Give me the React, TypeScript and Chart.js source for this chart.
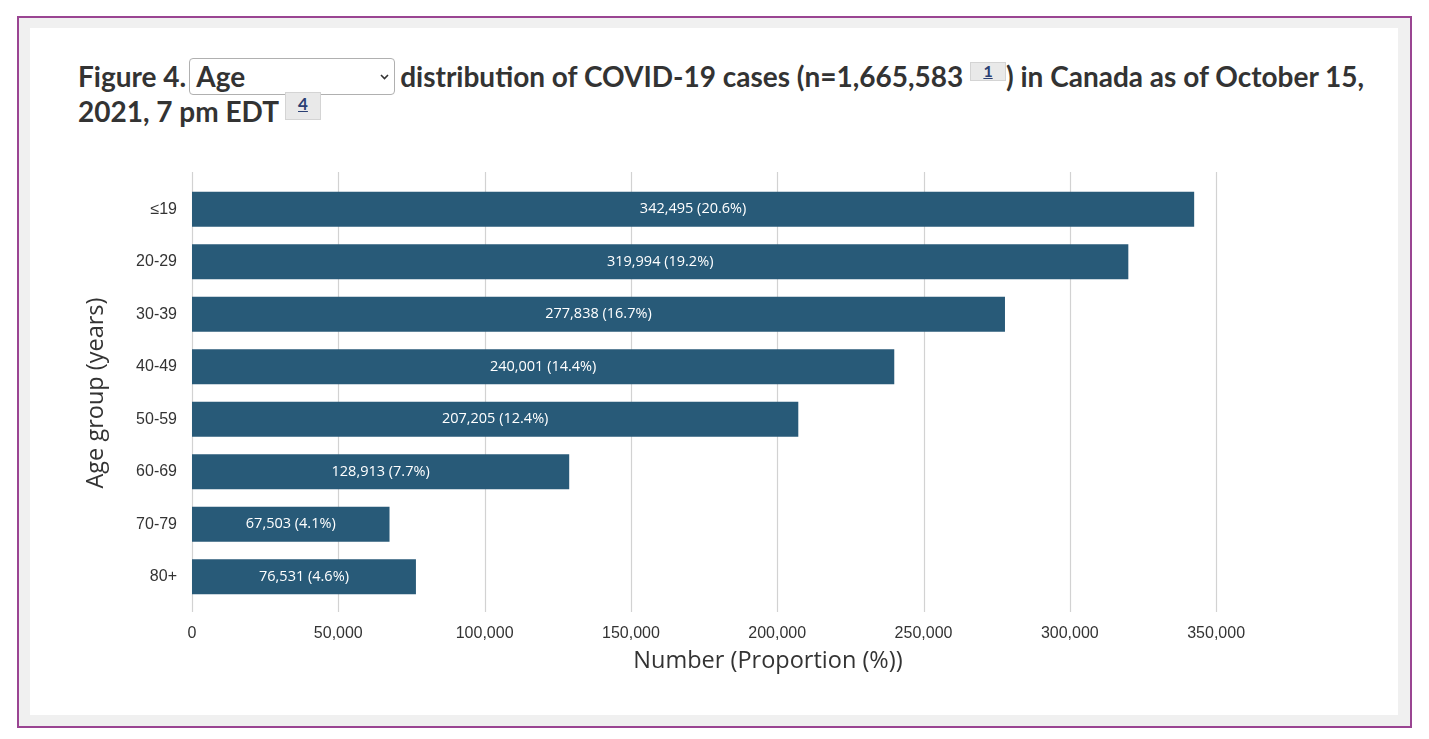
import React, { useEffect, useRef } from "react";
import { Chart, registerables } from "chart.js";

Chart.register(...registerables);

const categories = ["≤19", "20-29", "30-39", "40-49", "50-59", "60-69", "70-79", "80+"];
const caseCounts = [342495, 319994, 277838, 240001, 207205, 128913, 67503, 76531];
const proportions = [20.6, 19.2, 16.7, 14.4, 12.4, 7.7, 4.1, 4.6];
const xTickValues = [0, 50000, 100000, 150000, 200000, 250000, 300000, 350000];
const xAxisMax = 393700;

const BAR_COLOR = "#285a78";
const GRID_COLOR = "#d2d2d2";
const TEXT_COLOR = "#333333";

const gridPlugin = {
  id: "extendedGrid",
  beforeDatasetsDraw(chart: any) {
    const { ctx, chartArea, scales } = chart;
    const xs = scales.x;
    ctx.save();
    ctx.strokeStyle = GRID_COLOR;
    ctx.lineWidth = 1.2;
    xs.ticks.forEach((t: any) => {
      const px = Math.round(xs.getPixelForValue(t.value)) + 0.5;
      ctx.beginPath();
      ctx.moveTo(px, chartArea.top - 11);
      ctx.lineTo(px, chartArea.bottom + 9);
      ctx.stroke();
    });
    ctx.restore();
  },
};

const barLabelPlugin = {
  id: "barLabels",
  afterDatasetsDraw(chart: any) {
    const { ctx } = chart;
    const meta = chart.getDatasetMeta(0);
    ctx.save();
    ctx.fillStyle = "#ffffff";
    ctx.font = "14.5px 'Open Sans'";
    ctx.textAlign = "center";
    ctx.textBaseline = "middle";
    meta.data.forEach((bar: any, i: number) => {
      const label = caseCounts[i].toLocaleString("en-US") + " (" + proportions[i].toFixed(1) + "%)";
      const cx = (bar.x + bar.base) / 2;
      ctx.fillText(label, cx, bar.y);
    });
    ctx.restore();
  },
};

function ChartCanvas() {
  const ref = useRef<HTMLCanvasElement | null>(null);
  useEffect(() => {
    if (!ref.current) return;
    const chart = new Chart(ref.current, {
      type: "bar",
      data: {
        labels: categories,
        datasets: [
          {
            data: caseCounts,
            backgroundColor: BAR_COLOR,
            borderWidth: 0,
            barPercentage: 0.667,
            categoryPercentage: 1,
          },
        ],
      },
      options: {
        indexAxis: "y",
        responsive: false,
        animation: false,
        maintainAspectRatio: false,
        devicePixelRatio: 1,
        layout: { padding: { top: 33, right: 36, bottom: 0, left: 0 } },
        plugins: { legend: { display: false }, tooltip: { enabled: false } },
        scales: {
          x: {
            type: "linear",
            min: 0,
            max: xAxisMax,
            afterBuildTicks: (scale: any) => {
              scale.ticks = xTickValues.map((v) => ({ value: v }));
            },
            afterFit: (scale: any) => {
              scale.height = 97;
            },
            grid: { display: false, drawTicks: false, tickLength: 0 },
            border: { display: false },
            ticks: {
              padding: 21,
              color: TEXT_COLOR,
              font: { family: "'Liberation Sans', Arial, sans-serif", size: 16 },
              maxRotation: 0,
              autoSkip: false,
              callback: (v: any) => Number(v).toLocaleString("en-US"),
            },
            title: {
              display: true,
              text: "Number (Proportion (%))",
              color: TEXT_COLOR,
              font: { family: "'Open Sans'", size: 23.5 },
              padding: { top: 0, bottom: 25 },
            },
          },
          y: {
            type: "category",
            afterFit: (scale: any) => {
              scale.width = 152;
            },
            grid: { display: false, drawTicks: false, tickLength: 0 },
            border: { display: false },
            ticks: {
              padding: 15,
              color: TEXT_COLOR,
              font: { family: "'Liberation Sans', Arial, sans-serif", size: 16 },
            },
            title: {
              display: true,
              text: "Age group (years)",
              color: TEXT_COLOR,
              font: { family: "'Open Sans'", size: 23.5 },
              padding: { top: 42, bottom: 0 },
            },
          },
        },
      } as any,
      plugins: [gridPlugin, barLabelPlugin],
    });
    return () => chart.destroy();
  }, []);
  return (
    <canvas
      ref={ref}
      width={1340}
      height={550}
      style={{ position: "absolute", left: 40, top: 150, width: 1340, height: 550 }}
    />
  );
}

const footBox: React.CSSProperties = {
  display: "inline-block",
  width: 36,
  boxSizing: "border-box",
  background: "#e9e9e9",
  border: "1px solid #d4d4d4",
  textAlign: "center",
  fontFamily: "Lato, sans-serif",
  fontWeight: "bold",
  color: "#2a3f73",
  textDecoration: "underline",
  position: "relative",
};

export default function App() {
  return (
    <div
      style={{
        position: "fixed",
        left: 0,
        top: 0,
        width: 1429,
        height: 739,
        background: "#ffffff",
        overflow: "hidden",
      }}
    >
      <div
        style={{
          position: "absolute",
          left: 17,
          top: 16,
          width: 1395,
          height: 712,
          boxSizing: "border-box",
          border: "2px solid #9a4592",
          background: "#f0f0f0",
        }}
      />
      <div
        style={{
          position: "absolute",
          left: 30,
          top: 28,
          width: 1368,
          height: 687,
          background: "#ffffff",
        }}
      />
      <div
        style={{
          position: "absolute",
          left: 78,
          top: 58,
          whiteSpace: "nowrap",
          fontFamily: "Lato, sans-serif",
          fontWeight: "bold",
          fontSize: 28,
          lineHeight: "34px",
          color: TEXT_COLOR,
        }}
      >
        Figure 4.
        <span
          style={{
            display: "inline-block",
            width: 206,
            height: 37,
            boxSizing: "border-box",
            border: "1px solid #b0b0b0",
            borderRadius: 4,
            marginLeft: 3,
            marginRight: 5,
            paddingLeft: 6,
            lineHeight: "35px",
            position: "relative",
            verticalAlign: "baseline",
          }}
        >
          Age
          <svg
            width="9"
            height="6"
            style={{ position: "absolute", right: 5, top: 15 }}
            viewBox="0 0 9 6"
          >
            <polyline points="1,1 4.5,4.5 8,1" fill="none" stroke="#333" strokeWidth="1.6" />
          </svg>
        </span>
        distribution of COVID-19 cases (n=1,665,583{" "}
        <span
          style={{
            ...footBox,
            height: 19,
            lineHeight: "15px",
            fontSize: 16,
            verticalAlign: 10,
          }}
        >
          1
        </span>
        ) in Canada as of October 15,
      </div>
      <div
        style={{
          position: "absolute",
          left: 78,
          top: 92,
          whiteSpace: "nowrap",
          fontFamily: "Lato, sans-serif",
          fontWeight: "bold",
          fontSize: 28,
          lineHeight: "34px",
          color: TEXT_COLOR,
        }}
      >
        2021, 7 pm EDT{" "}
        <span
          style={{
            ...footBox,
            height: 28,
            lineHeight: "22px",
            fontSize: 17,
            verticalAlign: 12,
          }}
        >
          4
        </span>
      </div>
      <ChartCanvas />
    </div>
  );
}
